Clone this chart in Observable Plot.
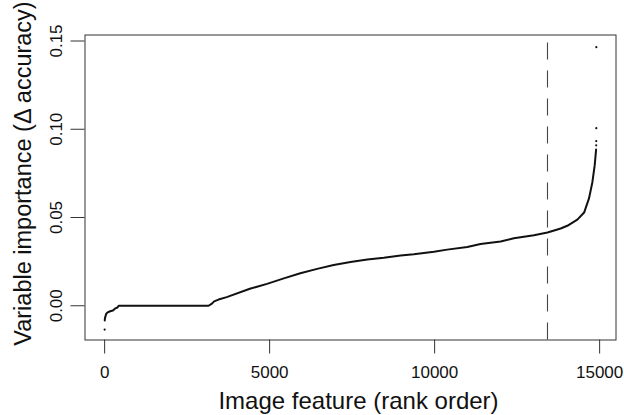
<!DOCTYPE html>
<html>
<head>
<meta charset="utf-8">
<script src="https://cdn.jsdelivr.net/npm/d3@7"></script>
<script src="https://cdn.jsdelivr.net/npm/@observablehq/plot@0.6"></script>
<style>
  html, body { margin: 0; padding: 0; background: #fff; }
  svg { display: block; }
</style>
</head>
<body>
<div id="chart"></div>
<script>
// Sorted variable importance (rank, Δ accuracy)
const ranks = [4, 10, 48, 90, 170, 250, 322, 390, 425, 1500, 3150, 3250, 3320, 3450, 3700, 4400, 4920, 5430, 5930, 6440, 6940, 7450, 7960, 8460, 8970, 9370, 9980, 10380, 10990, 11390, 12000, 12400, 13010, 13420, 13820, 14020, 14325, 14530, 14680, 14780, 14850, 14893];
const importance = [-0.0083, -0.0070, -0.0045, -0.0038, -0.0031, -0.0027, -0.0015, -0.0010, 0.0000, 0.0000, 0.0000, 0.0012, 0.0025, 0.0035, 0.0049, 0.0096, 0.0124, 0.0155, 0.0184, 0.0209, 0.0231, 0.0248, 0.0262, 0.0272, 0.0285, 0.0292, 0.0306, 0.0318, 0.0333, 0.0350, 0.0364, 0.0382, 0.0400, 0.0415, 0.0438, 0.0453, 0.0488, 0.0528, 0.0610, 0.0700, 0.0795, 0.0885];
// isolated extreme points
const outlierRanks = [1, 14896, 14897, 14899, 14900];
const outlierValues = [-0.0135, 0.0909, 0.0933, 0.1006, 0.1465];
// cutoff rank marked by the dashed line
const cutoffRank = [13420];
// axis ticks
const xTicks = [0, 5000, 10000, 15000];
const yTicks = [0.00, 0.05, 0.10, 0.15];

const curve = ranks.map((r, i) => ({rank: r, value: importance[i]}));
const outliers = outlierRanks.map((r, i) => ({rank: r, value: outlierValues[i]}));

const font = "'Liberation Sans', Arial, Helvetica, sans-serif";
const yLo = -0.0194, yHi = 0.1534;

const chart = Plot.plot({
  width: 624,
  height: 415,
  marginLeft: 84.5,
  marginRight: 8.5,
  marginTop: 34.5,
  marginBottom: 75.5,
  style: {fontFamily: font, background: "#fff", color: "#000"},
  x: {domain: [-595, 15496]},
  y: {domain: [yLo, yHi]},
  marks: [
    Plot.frame({stroke: "#333", strokeWidth: 1}),
    Plot.axisX({ticks: xTicks, tickSize: 14, tickPadding: 12, fontSize: 17, tickFormat: d => String(d), label: null, stroke: "#333", fill: "#111"}),
    Plot.axisY({ticks: yTicks, tickSize: 14, tickPadding: 9, fontSize: 17, tickFormat: d => d.toFixed(2), tickRotate: -90, label: null, stroke: "#333", fill: "#111"}),
    Plot.text(["Image feature (rank order)"], {frameAnchor: "bottom", lineAnchor: "middle", textAnchor: "middle", dx: 8, dy: 61, fontSize: 24, fill: "#111"}),
    Plot.text(["Variable importance (Δ accuracy)"], {frameAnchor: "left", lineAnchor: "middle", textAnchor: "middle", dx: -62, dy: -14, rotate: -90, fontSize: 23.5, fill: "#111"}),
    Plot.ruleX(cutoffRank, {y1: yLo, y2: yHi, stroke: "#444", strokeWidth: 1.1, strokeDasharray: "17,11"}),
    Plot.line(curve, {x: "rank", y: "value", stroke: "#111", strokeWidth: 2}),
    Plot.dot(outliers, {x: "rank", y: "value", r: 1.1, fill: "#111", stroke: null})
  ]
});
document.getElementById("chart").appendChild(chart);
</script>
</body>
</html>
